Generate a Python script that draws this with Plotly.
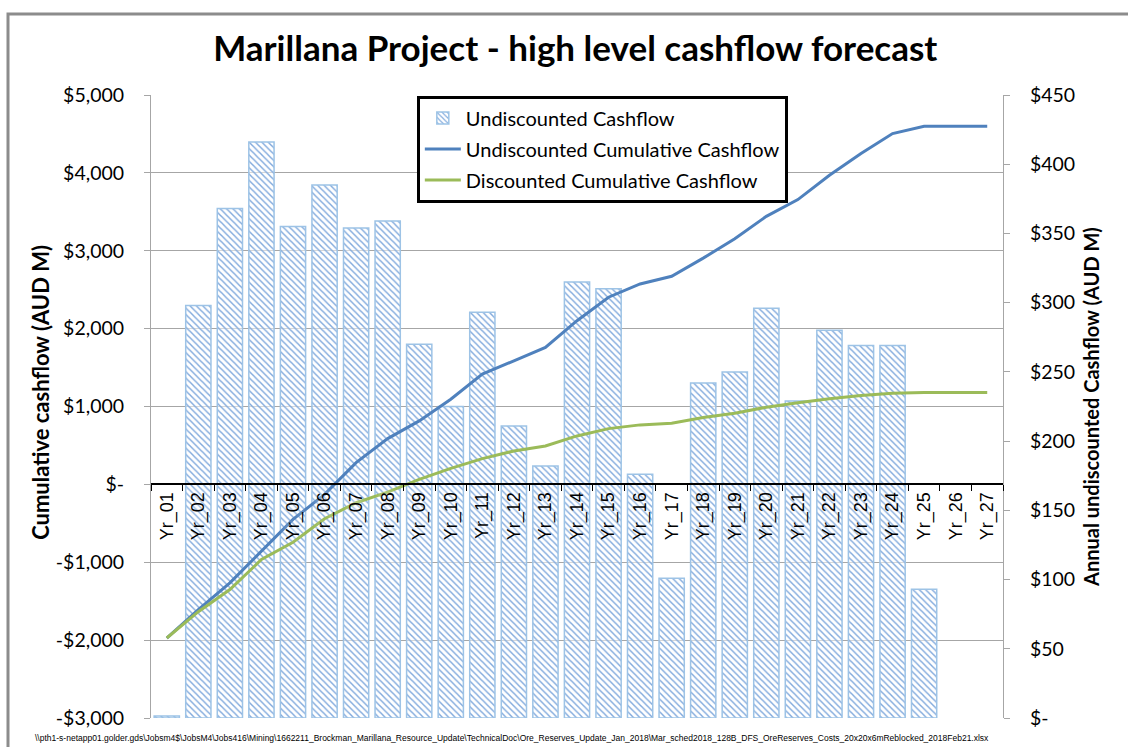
import plotly.graph_objects as go

categories = ["Yr_01", "Yr_02", "Yr_03", "Yr_04", "Yr_05", "Yr_06", "Yr_07", "Yr_08", "Yr_09",
              "Yr_10", "Yr_11", "Yr_12", "Yr_13", "Yr_14", "Yr_15", "Yr_16", "Yr_17", "Yr_18",
              "Yr_19", "Yr_20", "Yr_21", "Yr_22", "Yr_23", "Yr_24", "Yr_25", "Yr_26", "Yr_27"]

# Annual undiscounted cashflow (AUD M) - right axis (blank for the last two years)
annual_cashflow = [1.5, 298, 368, 416, 355, 385, 354, 359, 270, 225, 293, 211, 182, 315, 310, 176,
                   101, 242, 250, 296, 229, 280, 269, 269, 93, None, None]

# Cumulative cashflow (AUD M) - left axis
undiscounted_cumulative = [-1973, -1609, -1265, -858, -450, -129, 279, 588, 815, 1094, 1416, 1587,
                           1759, 2102, 2403, 2574, 2673, 2905, 3155, 3442, 3657, 3969, 4248, 4505,
                           4599, 4599, 4599]
discounted_cumulative = [-1973, -1635, -1351, -965, -743, -441, -236, -99, 64, 205, 331, 429,
                         493, 622, 716, 764, 785, 858, 914, 991, 1047, 1099, 1141, 1171,
                         1180, 1180, 1180]

left_tickvals = [-3000, -2000, -1000, 0, 1000, 2000, 3000, 4000, 5000]
left_ticktext = ["-$3,000", "-$2,000", "-$1,000", "$-", "$1,000", "$2,000", "$3,000", "$4,000", "$5,000"]
right_tickvals = [0, 50, 100, 150, 200, 250, 300, 350, 400, 450]
right_ticktext = ["$-", "$50", "$100", "$150", "$200", "$250", "$300", "$350", "$400", "$450"]

title_text = "Marillana Project - high level cashflow forecast"
left_axis_title = "Cumulative cashflow (AUD M)"
right_axis_title = "Annual undiscounted Cashflow (AUD M)"
footer_text = r"\\pth1-s-netapp01.golder.gds\Jobsm4$\JobsM4\Jobs416\Mining\1662211_Brockman_Marillana_Resource_Update\TechnicalDoc\Ore_Reserves_Update_Jan_2018\Mar_sched2018_128B_DFS_OreReserves_Costs_20x20x6mReblocked_2018Feb21.xlsx"

FONT = "Lato"
BLUE = "#4F81BD"
GREEN = "#9BBB59"
GRID = "#A6A6A6"

fig = go.Figure()

fig.add_trace(go.Bar(
    x=categories, y=annual_cashflow, name="Undiscounted Cashflow",
    yaxis="y", legendgroup="a",
    marker=dict(
        color="rgba(255,255,255,0.55)",
        line=dict(color="#9DC3E6", width=1.5),
        pattern=dict(shape="\\", fgcolor="#7FA8DC", bgcolor="rgba(255,255,255,0.55)",
                     size=4.5, solidity=0.32, fillmode="replace"),
    ),
))
fig.add_trace(go.Scatter(
    x=categories, y=undiscounted_cumulative, name="Undiscounted Cumulative Cashflow",
    yaxis="y2", mode="lines", line=dict(color=BLUE, width=3), legendgroup="b",
))
fig.add_trace(go.Scatter(
    x=categories, y=discounted_cumulative, name="Discounted Cumulative Cashflow",
    yaxis="y2", mode="lines", line=dict(color=GREEN, width=3), legendgroup="c",
))

fig.update_layout(
    width=1128, height=747,
    margin=dict(l=151, r=125, t=95, b=29, autoexpand=False),
    paper_bgcolor="white", plot_bgcolor="rgba(0,0,0,0)",
    font=dict(family=FONT, size=18, color="black"),
    bargap=0.2,
    showlegend=True,
    title=dict(text="<b>" + title_text + "</b>", x=0.51, xanchor="center", xref="container",
               y=1 - 49 / 747, yanchor="middle", yref="container",
               font=dict(family=FONT, size=35, color="black")),
    legend=dict(x=0.312, y=0.999, xanchor="left", yanchor="top",
                bgcolor="white", bordercolor="black", borderwidth=3,
                font=dict(family=FONT, size=20, color="black"),
                traceorder="grouped", tracegroupgap=2,
                itemwidth=36),
    xaxis=dict(
        type="category", range=[-0.5, 26.5],
        anchor="free", position=0.375,
        showline=True, linecolor="black", linewidth=1.5,
        ticks="outside", tickson="boundaries", ticklen=6, tickcolor="black", tickwidth=1.2,
        tickangle=-90, showgrid=False, zeroline=False,
        tickfont=dict(family="Liberation Sans", size=18, color="black",
                      shadow="0px 0px 6px rgba(255,255,255,0.95)"),
    ),
    yaxis=dict(
        side="right", range=[0, 450], tickvals=right_tickvals, ticktext=right_ticktext,
        showgrid=False, zeroline=False, showline=True, linecolor=GRID, linewidth=1,
        ticks="outside", ticklen=6, tickcolor=GRID, ticklabelstandoff=16,
        tickfont=dict(family=FONT, size=19.5, color="black"),
        title=dict(text="<b>" + right_axis_title + "</b>", standoff=10,
                   font=dict(family=FONT, size=20, color="black")),
    ),
    yaxis2=dict(
        side="left", overlaying="y", anchor="x", range=[-3000, 5000],
        tickvals=left_tickvals, ticktext=left_ticktext,
        showgrid=True, gridcolor=GRID, gridwidth=1, zeroline=False,
        showline=True, linecolor=GRID, linewidth=1,
        ticks="outside", ticklen=6, tickcolor=GRID, ticklabelstandoff=16,
        tickfont=dict(family=FONT, size=19.5, color="black"),
        title=dict(text="&nbsp;&nbsp;&nbsp;&nbsp;&nbsp;<b>" + left_axis_title + "</b>", standoff=0,
                   font=dict(family=FONT, size=22, color="black")),
    ),
    shapes=[
        dict(type="rect", xref="paper", yref="paper",
             x0=(8 - 151) / 852, x1=1.25, y0=-0.2, y1=(718 - 14) / 623,
             line=dict(color="#8C8C8C", width=3), fillcolor="rgba(0,0,0,0)", layer="below"),
    ],
    annotations=[
        dict(text=footer_text, xref="paper", yref="paper",
             x=(33 - 151) / 852, y=(718 - 738) / 623, xanchor="left", yanchor="middle",
             showarrow=False, font=dict(family="Liberation Sans", size=8.5, color="black")),
    ],
)

fig.write_html("out.html", config={"displayModeBar": False},
               post_script="document.body.style.margin='0px';")
